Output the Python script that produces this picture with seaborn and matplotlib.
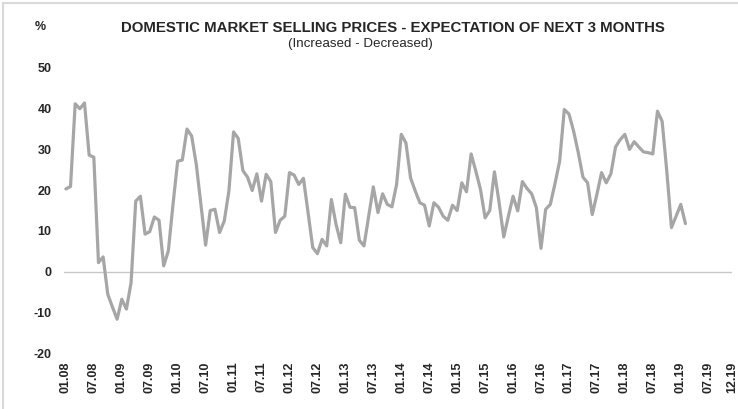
import matplotlib
matplotlib.use("Agg")
import matplotlib.pyplot as plt
from matplotlib.patches import Rectangle
import seaborn as sns
import pandas as pd

values = [
    20.3, 20.9, 41.2, 40.0, 41.4, 28.6, 28.1, 2.2, 3.6, -5.6, -8.7, -11.7,
    -6.8, -9.2, -2.7, 17.3, 18.5, 9.2, 9.8, 13.4, 12.6, 1.4, 5.1, 16.5,
    27.1, 27.4, 35.0, 33.3, 26.3, 16.5, 6.5, 15.0, 15.3, 9.6, 12.4, 19.8,
    34.3, 32.7, 24.8, 23.2, 19.9, 24.0, 17.3, 23.9, 22.1, 9.6, 12.6, 13.6,
    24.3, 23.7, 21.4, 22.9, 14.5, 5.9, 4.4, 7.9, 6.3, 17.7, 11.6, 7.1,
    19.0, 15.8, 15.7, 7.7, 6.3, 13.6, 20.8, 14.5, 19.1, 16.5, 15.9, 21.4,
    33.7, 31.6, 23.0, 19.8, 16.9, 16.3, 11.2, 16.9, 15.8, 13.6, 12.6, 16.3,
    15.0, 21.8, 19.6, 28.9, 24.7, 20.2, 13.2, 15.0, 24.5, 17.0, 8.5, 13.6,
    18.5, 14.9, 22.1, 20.4, 19.1, 15.7, 5.7, 15.3, 16.5, 21.6, 27.1, 39.8,
    38.7, 34.5, 29.2, 23.2, 21.8, 14.0, 19.0, 24.3, 21.8, 24.0, 30.6, 32.4,
    33.7, 30.0, 31.9, 30.6, 29.4, 29.2, 28.9, 39.4, 36.9, 24.7, 10.8, 13.6,
    16.5, 11.8,
]
month_index = list(range(len(values)))

tick_positions = list(range(0, 139, 6)) + [143]
tick_labels = [f"{m:02d}.{y:02d}" for y in range(8, 20) for m in (1, 7)] + ["12.19"]

title = "DOMESTIC MARKET SELLING PRICES - EXPECTATION OF NEXT 3 MONTHS"
subtitle = "(Increased - Decreased)"

sns.set_theme(style="white")
plt.rcParams["font.family"] = ["Liberation Sans", "DejaVu Sans"]

df = pd.DataFrame({"month": month_index, "value": values})

fig = plt.figure(figsize=(7.38, 4.09), dpi=100)
ax = fig.add_axes([64 / 738, 1 - 353 / 409, (732 - 64) / 738, (353 - 68) / 409])

sns.lineplot(data=df, x="month", y="value", ax=ax, color="#a6a6a6", linewidth=2.3)

ax.axhline(0, color="#c8c8c8", linewidth=1.0, zorder=0)
ax.set_xlim(-0.4, 143.0)
ax.set_ylim(-20, 50)
ax.set_yticks([-20, -10, 0, 10, 20, 30, 40, 50])
ax.set_yticklabels([str(v) for v in [-20, -10, 0, 10, 20, 30, 40, 50]],
                   fontsize=9, fontweight="bold", color="#262626")
ax.set_xticks(tick_positions)
ax.set_xticklabels(tick_labels, rotation=90, fontsize=9, fontweight="bold", color="#262626")
ax.tick_params(axis="x", length=0, pad=6)
ax.tick_params(axis="y", length=0, pad=9)
ax.set_xlabel("")
ax.set_ylabel("")
for s in ax.spines.values():
    s.set_visible(False)
ax.grid(False)

fig.text(393 / 738, 1 - 28 / 409, title, ha="center", va="center",
         fontsize=10.8, fontweight="bold", color="#262626")
fig.text(360 / 738, 1 - 44 / 409, subtitle, ha="center", va="center",
         fontsize=9.6, color="#262626")
fig.text(40 / 738, 1 - 27 / 409, "%", ha="center", va="center",
         fontsize=9, fontweight="bold", color="#262626")

fig.patches.append(Rectangle((3 / 738, -0.1), 2, (409 - 3) / 409 + 0.1,
                             transform=fig.transFigure, fill=False,
                             edgecolor="#d9d9d9", linewidth=1.5))

fig.savefig("out.png", dpi=100)
